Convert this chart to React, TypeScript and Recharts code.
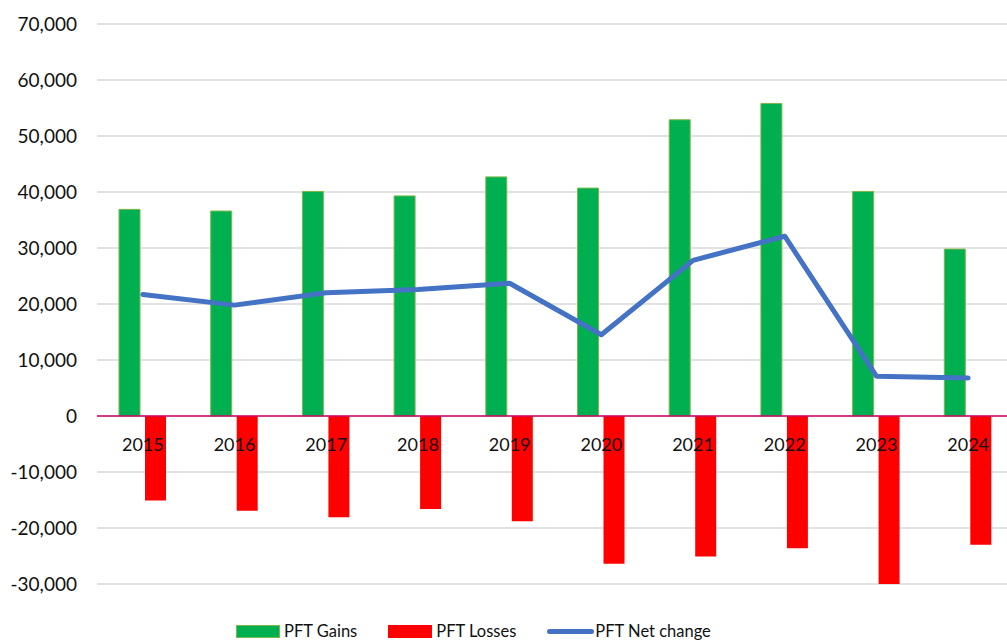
import { ComposedChart, Bar, Line, XAxis, YAxis, CartesianGrid, Legend, ReferenceLine } from 'recharts';

const years = ['2015', '2016', '2017', '2018', '2019', '2020', '2021', '2022', '2023', '2024'];
const gains = [36900, 36600, 40100, 39300, 42700, 40700, 52900, 55800, 40100, 29800];
const losses = [-15100, -16900, -18100, -16600, -18800, -26400, -25100, -23600, -33000, -23000];
const netChange = [21700, 19800, 22000, 22600, 23700, 14500, 27800, 32100, 7100, 6800];
const yTicks = [-30000, -20000, -10000, 0, 10000, 20000, 30000, 40000, 50000, 60000, 70000];

const data = years.map((year, i) => ({
  year,
  gains: gains[i],
  losses: losses[i],
  net: netChange[i],
}));

const W = 1030;
const H = 642;
const X_AXIS_H = 30;
const MARGIN = { top: 24, right: 16, bottom: 28, left: 0 };
const Y_MIN = -30000;
const Y_MAX = 70000;
const FONT = 'Lato, "Noto Sans", sans-serif';

// x labels sit just under the zero line, like Excel's "axis crosses at 0"
const plotH = H - MARGIN.top - MARGIN.bottom - X_AXIS_H;
const zeroY = MARGIN.top + (plotH * Y_MAX) / (Y_MAX - Y_MIN);

const fmt = (v: number) => v.toLocaleString('en-US');

function YearTick(props: any) {
  const { x, payload } = props;
  return (
    <text x={x} y={zeroY + 28} textAnchor="middle" dominantBaseline="central" fontSize={18} fontFamily={FONT} fill="#111">
      {payload.value}
    </text>
  );
}

function LegendContent(props: any) {
  const { payload } = props;
  return (
    <div style={{ display: 'flex', alignItems: 'center', fontFamily: FONT, fontSize: 16.5, lineHeight: '17px', color: '#111', whiteSpace: 'nowrap' }}>
      {payload.map((entry: any, i: number) => (
        <div key={i} style={{ display: 'flex', alignItems: 'center', marginRight: 31 }}>
          {entry.type === 'line' ? (
            <span style={{ display: 'inline-block', width: 47, height: 5, borderRadius: 3, background: entry.color, marginRight: 1 }} />
          ) : (
            <span
              style={{
                display: 'inline-block',
                width: 44,
                height: 13,
                boxSizing: 'border-box',
                background: entry.color,
                border: entry.dataKey === 'gains' ? '1px solid #7cb84a' : 'none',
                marginRight: 4,
              }}
            />
          )}
          <span>{entry.value}</span>
        </div>
      ))}
    </div>
  );
}

export default function App() {
  return (
    <div style={{ width: 1007, height: 642, overflow: 'hidden', position: 'absolute', left: 0, top: 0, background: '#fff' }}>
      <ComposedChart width={W} height={H} data={data} margin={MARGIN} barSize={21} barGap={5}>
        <CartesianGrid vertical={false} stroke="#d9d9d9" strokeWidth={1.4} />
        <XAxis dataKey="year" height={X_AXIS_H} axisLine={false} tickLine={false} tick={YearTick} interval={0} />
        <YAxis
          width={97}
          domain={[Y_MIN, Y_MAX]}
          ticks={yTicks}
          allowDataOverflow
          axisLine={false}
          tickLine={false}
          tickSize={0}
          tickMargin={20}
          tickFormatter={fmt}
          tick={{ fontSize: 19, fontFamily: FONT, fill: '#111' }}
        />
        <Bar dataKey="gains" name="PFT Gains" fill="#00b050" stroke="#7cb84a" strokeWidth={1} isAnimationActive={false} />
        <Bar dataKey="losses" name="PFT Losses" fill="#ff0000" isAnimationActive={false} />
        <ReferenceLine y={0} stroke="#cc0066" strokeWidth={1.6} />
        <Line
          dataKey="net"
          name="PFT Net change"
          type="linear"
          stroke="#4472c4"
          strokeWidth={5}
          strokeLinecap="round"
          strokeLinejoin="round"
          dot={false}
          activeDot={false}
          legendType="line"
          isAnimationActive={false}
        />
        <Legend
          layout="horizontal"
          align="center"
          verticalAlign="middle"
          content={<LegendContent />}
          wrapperStyle={{ left: 236, top: 623, width: 'auto', height: 17 }}
        />
      </ComposedChart>
    </div>
  );
}
